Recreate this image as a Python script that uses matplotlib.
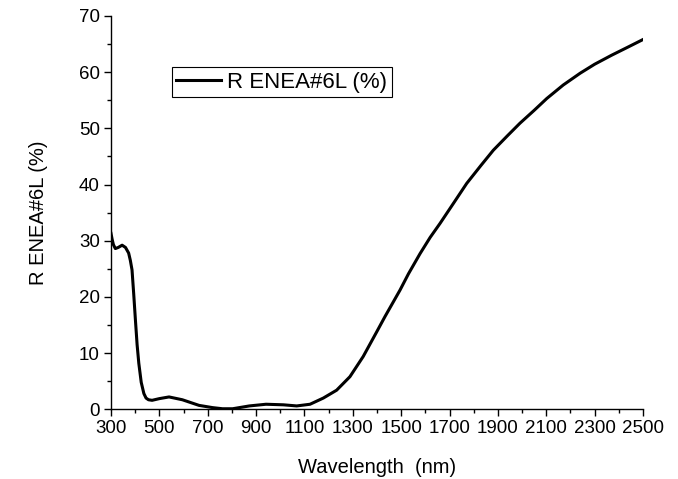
import matplotlib
matplotlib.use('Agg')
import matplotlib.pyplot as plt
from matplotlib.ticker import MultipleLocator

plt.rcParams['font.family'] = ['Liberation Sans', 'DejaVu Sans']

# 数据
wavelength = [300, 305, 310, 318, 330, 346, 360, 373, 380, 387, 394, 401, 408, 415,
              425, 436, 445, 455, 470, 500, 540, 595, 664, 720, 761, 803, 872,
              941, 1013, 1068, 1123, 1178, 1233, 1288, 1343, 1399, 1433, 1495,
              1530, 1578, 1620, 1661, 1720, 1771, 1830, 1881, 1940, 1991, 2050,
              2102, 2170, 2240, 2300, 2370, 2440, 2500]
reflect = [31.3, 30.2, 29.3, 28.6, 28.8, 29.2, 28.8, 27.8, 26.5, 24.8, 20.5, 15.9, 11.5, 8.2,
           4.8, 2.8, 2.0, 1.7, 1.6, 1.9, 2.2, 1.7, 0.7, 0.3, 0.1, 0.1, 0.6,
           0.9, 0.8, 0.6, 0.9, 2.0, 3.4, 5.8, 9.4, 13.8, 16.5, 21.2,
           24.1, 27.7, 30.6, 33.1, 36.9, 40.2, 43.4, 46.1, 48.7, 50.9, 53.2,
           55.3, 57.7, 59.8, 61.4, 63.0, 64.5, 65.8]
series_name = 'R ENEA#6L (%)'

fig = plt.figure(figsize=(6.78, 4.79), dpi=100)
ax = fig.add_axes([0.1637, 0.1455, 0.7847, 0.8213])

ax.plot(wavelength, reflect, color='black', linewidth=2.2, label=series_name)

ax.set_xlim(300, 2500)
ax.set_ylim(0, 70)
ax.xaxis.set_major_locator(MultipleLocator(200))
ax.xaxis.set_minor_locator(MultipleLocator(100))
ax.yaxis.set_major_locator(MultipleLocator(10))
ax.yaxis.set_minor_locator(MultipleLocator(5))
ax.set_xticks(range(300, 2501, 200))

for s in ['top', 'right']:
    ax.spines[s].set_visible(False)
for s in ['left', 'bottom']:
    ax.spines[s].set_linewidth(1.0)

ax.tick_params(which='major', direction='out', length=5, width=1, labelsize=13.5, pad=3)
ax.tick_params(which='minor', direction='out', length=3, width=1)

ax.set_xlabel('Wavelength  (nm)', fontsize=14.5, labelpad=15)
ax.set_ylabel(series_name, fontsize=14.5, labelpad=22)

leg = ax.legend(loc='upper left', bbox_to_anchor=(0.114, 0.869), fontsize=16,
                frameon=True, fancybox=False, edgecolor='black', framealpha=1,
                handlelength=2.0, handletextpad=0.3, borderpad=0.2,
                borderaxespad=0)
leg.get_frame().set_linewidth(0.8)

plt.savefig('out.png', dpi=100)
